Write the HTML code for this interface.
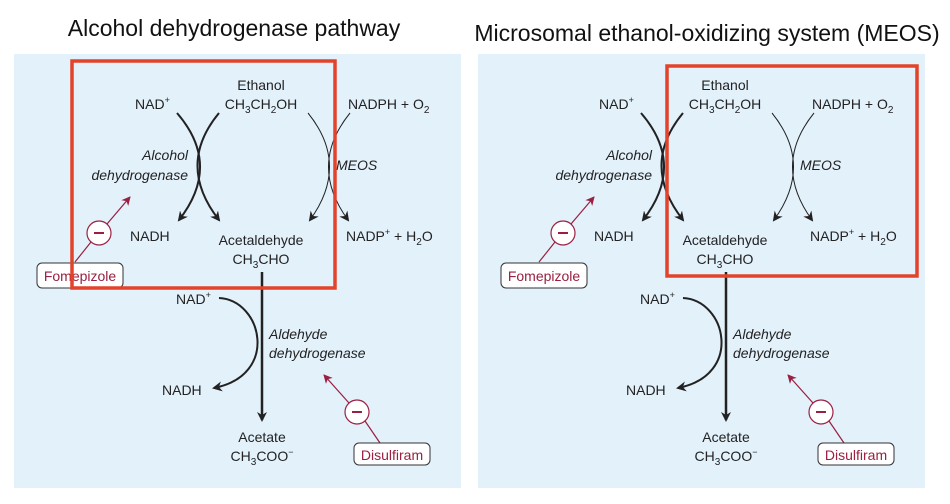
<!DOCTYPE html>
<html><head><meta charset="utf-8"><style>
body{margin:0;background:#fff;width:950px;height:504px;overflow:hidden}
svg{display:block;font-family:"Liberation Sans",Arial,sans-serif}
</style></head><body>
<svg width="950" height="504" viewBox="0 0 950 504">
<defs>
<marker id="ah" markerWidth="10" markerHeight="10" refX="8" refY="5" orient="auto" markerUnits="userSpaceOnUse"><path d="M0,0 L10,5 L0,10 L3,5 z" fill="#222"/></marker>
<marker id="ar" markerWidth="9" markerHeight="9" refX="8" refY="4.5" orient="auto" markerUnits="userSpaceOnUse"><path d="M0,0 L9,4.5 L0,9 L2.5,4.5 z" fill="#9a1f40"/></marker>
</defs>
<text x="234" y="36" font-size="23" text-anchor="middle" fill="#111">Alcohol dehydrogenase pathway</text>
<text x="707" y="41" font-size="23" text-anchor="middle" fill="#111">Microsomal ethanol-oxidizing system (MEOS)</text>

<g id="L">
<rect x="14" y="54" width="447" height="434" fill="#e3f1fb"/>
<g font-size="14" fill="#222">
<text x="261" y="90" text-anchor="middle">Ethanol</text>
<text x="261" y="109" text-anchor="middle">CH<tspan font-size="10" dy="4">3</tspan><tspan dy="-4">CH</tspan><tspan font-size="10" dy="4">2</tspan><tspan dy="-4">OH</tspan></text>
<text x="135" y="109">NAD<tspan font-size="9" dy="-6">+</tspan></text>
<text x="348" y="109">NADPH + O<tspan font-size="10" dy="4">2</tspan></text>
<text x="188" y="160" text-anchor="end" font-style="italic">Alcohol</text>
<text x="188" y="180" text-anchor="end" font-style="italic">dehydrogenase</text>
<text x="336" y="170" font-style="italic">MEOS</text>
<text x="130" y="241">NADH</text>
<text x="261" y="245" text-anchor="middle">Acetaldehyde</text>
<text x="261" y="264" text-anchor="middle">CH<tspan font-size="10" dy="4">3</tspan><tspan dy="-4">CHO</tspan></text>
<text x="346" y="241">NADP<tspan font-size="9" dy="-6">+</tspan><tspan dy="6"> + H</tspan><tspan font-size="10" dy="4">2</tspan><tspan dy="-4">O</tspan></text>
<text x="176" y="304">NAD<tspan font-size="9" dy="-6">+</tspan></text>
<text x="269" y="339" font-style="italic">Aldehyde</text>
<text x="269" y="358" font-style="italic">dehydrogenase</text>
<text x="162" y="395">NADH</text>
<text x="262" y="442" text-anchor="middle">Acetate</text>
<text x="262" y="461" text-anchor="middle">CH<tspan font-size="10" dy="4">3</tspan><tspan dy="-4">COO</tspan><tspan font-size="9" dy="-6">−</tspan></text>
</g>
<g fill="none" stroke="#222">
<path d="M177,113 Q222,165 179,220" stroke-width="2" marker-end="url(#ah)"/>
<path d="M219,113 Q176,165 219,220" stroke-width="2" marker-end="url(#ah)"/>
<path d="M308,113 Q350,165 310,220" stroke-width="1" marker-end="url(#ah)"/>
<path d="M350,113 Q308,165 348,220" stroke-width="1" marker-end="url(#ah)"/>
<path d="M219,298 C262,300 280,375 214,388" stroke-width="2" marker-end="url(#ah)"/>
<path d="M262,272 L262,420" stroke-width="2.5" marker-end="url(#ah)"/>
</g>
<g stroke="#9a1f40" fill="none" stroke-width="1.2">
<path d="M75,262 L91,242"/><path d="M107,224 L130,197" marker-end="url(#ar)"/>
<circle cx="99" cy="233" r="12" fill="#fff"/>
<path d="M380,443 L365,421"/><path d="M349,403 L324,375" marker-end="url(#ar)"/>
<circle cx="357" cy="412" r="12" fill="#fff"/>
</g>
<g fill="#9a1f40" font-size="14">
<rect x="94" y="232" width="10" height="2"/><rect x="352" y="411" width="10" height="2"/>
<rect x="37" y="263" width="86" height="25" rx="5" fill="#fff" stroke="#333" stroke-width="1"/>
<text x="80" y="281" text-anchor="middle">Fomepizole</text>
<rect x="354" y="443" width="76" height="22" rx="5" fill="#fff" stroke="#333" stroke-width="1"/>
<text x="392" y="460" text-anchor="middle">Disulfiram</text>
</g>
</g>

<g transform="translate(464,0)">
<rect x="14" y="54" width="447" height="434" fill="#e3f1fb"/>
<g font-size="14" fill="#222">
<text x="261" y="90" text-anchor="middle">Ethanol</text>
<text x="261" y="109" text-anchor="middle">CH<tspan font-size="10" dy="4">3</tspan><tspan dy="-4">CH</tspan><tspan font-size="10" dy="4">2</tspan><tspan dy="-4">OH</tspan></text>
<text x="135" y="109">NAD<tspan font-size="9" dy="-6">+</tspan></text>
<text x="348" y="109">NADPH + O<tspan font-size="10" dy="4">2</tspan></text>
<text x="188" y="160" text-anchor="end" font-style="italic">Alcohol</text>
<text x="188" y="180" text-anchor="end" font-style="italic">dehydrogenase</text>
<text x="336" y="170" font-style="italic">MEOS</text>
<text x="130" y="241">NADH</text>
<text x="261" y="245" text-anchor="middle">Acetaldehyde</text>
<text x="261" y="264" text-anchor="middle">CH<tspan font-size="10" dy="4">3</tspan><tspan dy="-4">CHO</tspan></text>
<text x="346" y="241">NADP<tspan font-size="9" dy="-6">+</tspan><tspan dy="6"> + H</tspan><tspan font-size="10" dy="4">2</tspan><tspan dy="-4">O</tspan></text>
<text x="176" y="304">NAD<tspan font-size="9" dy="-6">+</tspan></text>
<text x="269" y="339" font-style="italic">Aldehyde</text>
<text x="269" y="358" font-style="italic">dehydrogenase</text>
<text x="162" y="395">NADH</text>
<text x="262" y="442" text-anchor="middle">Acetate</text>
<text x="262" y="461" text-anchor="middle">CH<tspan font-size="10" dy="4">3</tspan><tspan dy="-4">COO</tspan><tspan font-size="9" dy="-6">−</tspan></text>
</g>
<g fill="none" stroke="#222">
<path d="M177,113 Q222,165 179,220" stroke-width="2" marker-end="url(#ah)"/>
<path d="M219,113 Q176,165 219,220" stroke-width="2" marker-end="url(#ah)"/>
<path d="M308,113 Q350,165 310,220" stroke-width="1" marker-end="url(#ah)"/>
<path d="M350,113 Q308,165 348,220" stroke-width="1" marker-end="url(#ah)"/>
<path d="M219,298 C262,300 280,375 214,388" stroke-width="2" marker-end="url(#ah)"/>
<path d="M262,272 L262,420" stroke-width="2.5" marker-end="url(#ah)"/>
</g>
<g stroke="#9a1f40" fill="none" stroke-width="1.2">
<path d="M75,262 L91,242"/><path d="M107,224 L130,197" marker-end="url(#ar)"/>
<circle cx="99" cy="233" r="12" fill="#fff"/>
<path d="M380,443 L365,421"/><path d="M349,403 L324,375" marker-end="url(#ar)"/>
<circle cx="357" cy="412" r="12" fill="#fff"/>
</g>
<g fill="#9a1f40" font-size="14">
<rect x="94" y="232" width="10" height="2"/><rect x="352" y="411" width="10" height="2"/>
<rect x="37" y="263" width="86" height="25" rx="5" fill="#fff" stroke="#333" stroke-width="1"/>
<text x="80" y="281" text-anchor="middle">Fomepizole</text>
<rect x="354" y="443" width="76" height="22" rx="5" fill="#fff" stroke="#333" stroke-width="1"/>
<text x="392" y="460" text-anchor="middle">Disulfiram</text>
</g>
</g>

<rect x="72" y="61" width="263" height="227" fill="none" stroke="#e2432a" stroke-width="3.5"/>
<rect x="667" y="66" width="250" height="210" fill="none" stroke="#e2432a" stroke-width="3.5"/>
</svg>
</body></html>
